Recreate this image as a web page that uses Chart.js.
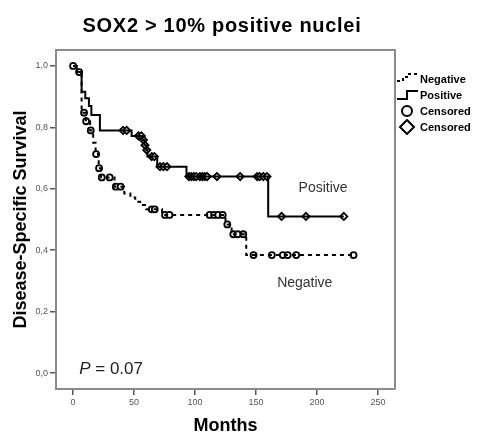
<!DOCTYPE html>
<html>
<head>
<meta charset="utf-8">
<script src="https://cdn.jsdelivr.net/npm/chart.js@4/dist/chart.umd.min.js"></script>
<style>
  html, body { margin: 0; padding: 0; background: #fff; }
  #wrap { position: relative; width: 477px; height: 432px; overflow: hidden; }
  #legend { position: absolute; left: 396px; top: 71px; font: bold 11px "Liberation Sans", Arial, sans-serif; color: #000; }
  .li { position: relative; height: 16px; line-height: 16px; white-space: nowrap; }
  .li svg { position: absolute; left: 0; top: 0; }
  .li span { position: absolute; left: 24px; top: 0; }
</style>
</head>
<body>
<div id="wrap">
  <canvas id="c" width="477" height="432"></canvas>
  <div id="legend">
    <div class="li"><svg width="24" height="16"><path d="M1 10 L7 10 L7 6 L13 6 L13 3 L22 3" fill="none" stroke="#000" stroke-width="2" stroke-dasharray="3,3"/></svg><span>Negative</span></div>
    <div class="li"><svg width="24" height="16"><path d="M1 12 L11 12 L11 4 L22 4" fill="none" stroke="#000" stroke-width="2"/></svg><span>Positive</span></div>
    <div class="li"><svg width="24" height="16"><circle cx="11" cy="8" r="5" fill="#fff" stroke="#000" stroke-width="2"/></svg><span>Censored</span></div>
    <div class="li"><svg width="24" height="16"><path d="M11 1 L18 8 L11 15 L4 8 Z" fill="#fff" stroke="#000" stroke-width="2"/></svg><span>Censored</span></div>
  </div>
</div>
<script>
// ---- Data ----
const xTicks = [0, 50, 100, 150, 200, 250];
const yTicks = [0, 0.2, 0.4, 0.6, 0.8, 1.0];
const yTickLabels = ['0,0', '0,2', '0,4', '0,6', '0,8', '1,0'];

// Negative group: Kaplan-Meier step points (time in months, survival)
const negTimes = [0, 3, 7, 10.5, 14, 16.5, 18.5, 21, 23, 34, 42, 47, 51, 55, 60, 73, 125, 130, 142, 230];
const negSurv  = [1.0, 0.98, 0.848, 0.82, 0.79, 0.75, 0.713, 0.667, 0.637, 0.607, 0.585, 0.572, 0.558, 0.547, 0.533, 0.515, 0.484, 0.452, 0.384, 0.384];
// Negative group censored marks
const negCensTimes = [0, 5, 9, 10.7, 14.5, 18.9, 21.3, 23.5, 30, 35, 39, 64.5, 67, 75.4, 79, 112, 115.6, 119, 122.7, 126.5, 131.4, 135, 139.6, 148, 163, 172, 176, 183, 230];
const negCensSurv  = [1.0, 0.98, 0.848, 0.82, 0.79, 0.713, 0.667, 0.637, 0.637, 0.607, 0.607, 0.533, 0.533, 0.515, 0.515, 0.515, 0.515, 0.515, 0.515, 0.484, 0.452, 0.452, 0.452, 0.384, 0.384, 0.384, 0.384, 0.384, 0.384];

// Positive group: Kaplan-Meier step points
const posTimes = [0, 3, 7, 10, 13, 15, 22, 48, 57, 58.5, 60, 61, 69, 93, 160, 222];
const posSurv  = [1.0, 0.98, 0.916, 0.895, 0.87, 0.84, 0.79, 0.772, 0.759, 0.742, 0.726, 0.705, 0.672, 0.64, 0.51, 0.51];
// Positive group censored marks
const posCensTimes = [41, 44, 53.6, 56, 57.7, 59, 60.4, 64.5, 66.6, 71.3, 74, 77, 95, 97, 99, 101, 104, 106, 108, 110, 118, 137, 151, 153, 156, 159, 171, 191, 222];
const posCensSurv  = [0.79, 0.79, 0.772, 0.772, 0.759, 0.742, 0.726, 0.705, 0.705, 0.672, 0.672, 0.672, 0.64, 0.64, 0.64, 0.64, 0.64, 0.64, 0.64, 0.64, 0.64, 0.64, 0.64, 0.64, 0.64, 0.64, 0.51, 0.51, 0.51];

const titleText = 'SOX2 > 10% positive nuclei';
const xTitle = 'Months';
const yTitle = 'Disease-Specific Survival';

const toXY = (ts, vs) => ts.map((t, i) => ({ x: t, y: vs[i] }));
const FONT = '"Liberation Sans", Arial, sans-serif';

const decor = {
  id: 'decor',
  afterDraw(chart) {
    const { ctx, chartArea: a, scales: { x, y } } = chart;
    ctx.save();
    // frame top & right
    ctx.strokeStyle = '#8a8a8a';
    ctx.lineWidth = 2;
    ctx.beginPath();
    ctx.moveTo(a.left, a.top);
    ctx.lineTo(a.right, a.top);
    ctx.lineTo(a.right, a.bottom);
    ctx.stroke();
    // title
    ctx.fillStyle = '#000';
    ctx.font = 'bold 20px ' + FONT;
    ctx.textAlign = 'center';
    ctx.textBaseline = 'middle';
    if ('letterSpacing' in ctx) ctx.letterSpacing = '0.7px';
    ctx.fillText(titleText, 222, 26);
    if ('letterSpacing' in ctx) ctx.letterSpacing = '0px';
    // group labels
    ctx.fillStyle = '#333';
    ctx.font = '14px ' + FONT;
    ctx.fillText('Positive', x.getPixelForValue(205), y.getPixelForValue(0.603));
    ctx.fillText('Negative', x.getPixelForValue(190), y.getPixelForValue(0.293));
    // P value
    ctx.textAlign = 'left';
    ctx.fillStyle = '#222';
    ctx.font = 'italic 17px ' + FONT;
    const px = x.getPixelForValue(5), py = y.getPixelForValue(0.013);
    ctx.fillText('P', px, py);
    const w = ctx.measureText('P').width;
    ctx.font = '17px ' + FONT;
    ctx.fillText(' = 0.07', px + w, py);
    ctx.restore();
  }
};

new Chart(document.getElementById('c'), {
  type: 'line',
  data: {
    datasets: [
      { label: 'Negative', data: toXY(negTimes, negSurv), stepped: 'before', borderColor: '#000', borderWidth: 2, borderDash: [4, 4], pointRadius: 0, fill: false },
      { label: 'Positive', data: toXY(posTimes, posSurv), stepped: 'before', borderColor: '#000', borderWidth: 2, pointRadius: 0, fill: false },
      { label: 'Censored', data: toXY(negCensTimes, negCensSurv), showLine: false, pointStyle: 'circle', pointRadius: 3, pointBorderWidth: 1.8, pointBackgroundColor: '#fff', pointBorderColor: '#000' },
      { label: 'Censored', data: toXY(posCensTimes, posCensSurv), showLine: false, pointStyle: 'rectRot', pointRadius: 3.6, pointBorderWidth: 1.8, pointBackgroundColor: '#fff', pointBorderColor: '#000' }
    ]
  },
  options: {
    responsive: false,
    animation: false,
    layout: { padding: { left: 0, top: 50, right: 82, bottom: 0 } },
    plugins: { legend: { display: false }, tooltip: { enabled: false } },
    scales: {
      x: {
        type: 'linear', min: -14, max: 264,
        afterBuildTicks: s => { s.ticks = xTicks.map(v => ({ value: v })); },
        afterFit: s => { s.height = 43; },
        grid: { drawOnChartArea: false, drawTicks: true, tickLength: 6, color: '#555', lineWidth: 1.5 },
        border: { display: true, color: '#8a8a8a', width: 2 },
        ticks: { color: '#555', font: { family: FONT, size: 9 }, padding: 2, maxRotation: 0, callback: v => String(v) },
        title: { display: true, text: xTitle, color: '#000', font: { family: FONT, size: 18, weight: 'bold', lineHeight: '12px' }, padding: { top: 0, bottom: 0 } }
      },
      y: {
        type: 'linear', min: -0.052, max: 1.052,
        afterBuildTicks: s => { s.ticks = yTicks.map(v => ({ value: v })); },
        afterFit: s => { s.width = 56; },
        grid: { drawOnChartArea: false, drawTicks: true, tickLength: 6, color: '#555', lineWidth: 1.5 },
        border: { display: true, color: '#8a8a8a', width: 2 },
        ticks: { color: '#555', font: { family: FONT, size: 9 }, padding: 2, callback: (v, i) => yTickLabels[i] },
        title: { display: true, text: yTitle, color: '#000', font: { family: FONT, size: 18, weight: 'bold', lineHeight: 1 }, padding: { top: 12, bottom: 0 } }
      }
    }
  },
  plugins: [decor]
});
</script>
</body>
</html>
